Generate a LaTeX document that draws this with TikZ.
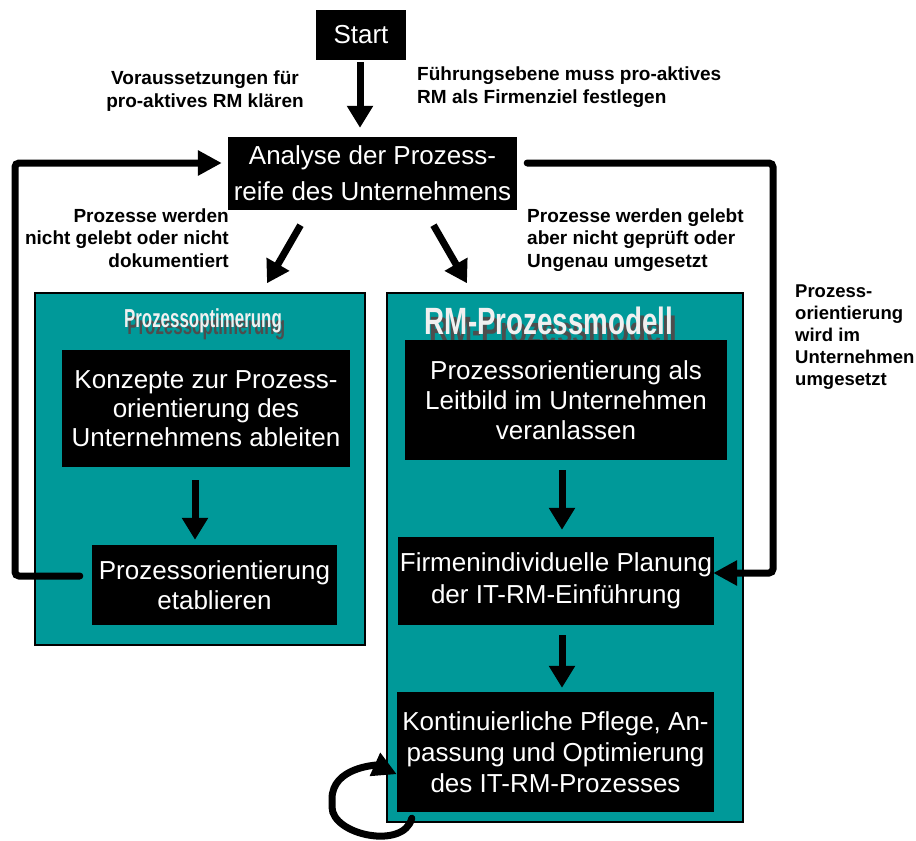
\documentclass[tikz,border=0pt]{standalone}
\usepackage{fontspec}
\setmainfont{Liberation Sans}
\usetikzlibrary{arrows.meta}
\definecolor{panelteal}{RGB}{0,153,153}
\definecolor{shadowgray}{RGB}{77,77,77}
\newcommand{\shadowtext}[3]{\makebox[0pt][l]{\hspace*{#1}\raisebox{-#2}{\textcolor{shadowgray}{#3}}}\textcolor{gray!12}{#3}}
\begin{document}
\begin{tikzpicture}[x=1pt,y=-1pt,
  box/.style={fill=black,text=white,align=center,inner sep=0pt,font=\fontsize{26}{30}\selectfont},
  panel/.style={fill=panelteal,draw=black,line width=1.5pt,inner sep=0pt},
  note/.style={font=\fontsize{19}{22.5}\selectfont\bfseries,inner sep=0pt},
  flow/.style={line width=7pt,-{Triangle[length=22pt,width=25pt]}},
  back/.style={line width=7pt,rounded corners=4pt,line cap=round,-{Triangle[length=24pt,width=24pt]}},
  title/.style={inner sep=0pt,anchor=base}]
\useasboundingbox (0,0) rectangle (916,841);
\node[panel,minimum width=330pt,minimum height=352pt] (leftpanel) at (200,469) {};
\node[panel,minimum width=356pt,minimum height=529pt] (rightpanel) at (565,557.5) {};
\node[title,font=\fontsize{26}{26}\selectfont\bfseries] (opttitle) at (203,327) {\scalebox{0.65}[1]{\shadowtext{5pt}{7pt}{Prozessoptimerung}}};
\node[title,font=\fontsize{38}{38}\selectfont\bfseries] (rmtitle) at (549,334) {\scalebox{0.73}[1]{\shadowtext{6pt}{9pt}{RM-Prozessmodell}}};
\node[box,minimum width=90pt,minimum height=50pt] (start) at (361,35) {Start};
\node[box,minimum width=289pt,minimum height=73pt,font=\fontsize{26}{36}\selectfont] (analyse) at (372.5,173.5) {Analyse der Prozess-\\reife des Unternehmens};
\node[box,minimum width=288pt,minimum height=117pt,font=\fontsize{26}{29}\selectfont] (konzepte) at (206,408.5) {Konzepte zur Prozess-\\orientierung des\\Unternehmens ableiten};
\node[box,minimum width=245pt,minimum height=80pt] (etab) at (214.5,585) {Prozessorientierung\\etablieren};
\node[box,minimum width=322pt,minimum height=120pt] (leitbild) at (566,400) {Prozessorientierung als\\Leitbild im Unternehmen\\veranlassen};
\node[box,minimum width=316pt,minimum height=88pt,font=\fontsize{26}{32}\selectfont] (planung) at (556,581) {Firmenindividuelle Planung\\der IT-RM-Einführung};
\node[box,minimum width=317pt,minimum height=120pt,font=\fontsize{26}{31}\selectfont] (pflege) at (555.5,752) {Kontinuierliche Pflege, An-\\passung und Optimierung\\des IT-RM-Prozesses};
\node[note,align=center] (vorlabel) at (205,91) {Voraussetzungen für\\pro-aktives RM klären};
\node[note,align=left,anchor=west] (fuehrlabel) at (417,87) {Führungsebene muss pro-aktives\\RM als Firmenziel festlegen};
\node[note,align=right,anchor=east] (nichtlabel) at (229,238) {Prozesse werden\\nicht gelebt oder nicht\\dokumentiert};
\node[note,align=left,anchor=west] (gelebtlabel) at (527,240) {Prozesse werden gelebt\\aber nicht geprüft oder\\Ungenau umgesetzt};
\node[note,align=left,anchor=west,font=\fontsize{18.5}{22.2}\selectfont\bfseries] (umgesetztlabel) at (795,337) {Prozess-\\orientierung\\wird im\\Unternehmen\\umgesetzt};
\draw[flow] ([xshift=-1pt,yshift=-2pt]start.south) -- ([xshift=-12.5pt,yshift=9pt]analyse.north);
\draw[flow] ([xshift=-72pt,yshift=-15pt]analyse.south) -- ([xshift=67pt,yshift=9pt]leftpanel.north);
\draw[flow] ([xshift=61pt,yshift=-15pt]analyse.south) -- ([xshift=-98pt,yshift=9pt]rightpanel.north);
\draw[flow] ([xshift=-11pt,yshift=-13pt]konzepte.south) -- ([xshift=-19.5pt,yshift=5pt]etab.north);
\draw[flow] ([xshift=-4pt,yshift=-10pt]leitbild.south) -- ([xshift=6pt,yshift=7pt]planung.north);
\draw[flow] ([xshift=6pt,yshift=-10pt]planung.south) -- ([xshift=6.5pt,yshift=4pt]pflege.north);
\coordinate (lbottom) at (15,576);
\coordinate (ltop) at (15,163);
\coordinate (rtop) at (773,163);
\coordinate (rbottom) at (773,573);
\draw[back] ([xshift=-12pt,yshift=9pt]etab.west) -- (lbottom) -- (ltop) -- ([xshift=-6pt,yshift=10.5pt]analyse.west);
\draw[back] ([xshift=10pt,yshift=10.5pt]analyse.east) -- (rtop) -- (rbottom) -- ([xshift=-1pt,yshift=8pt]planung.east);
\draw[back] ([xshift=15pt,yshift=-6pt]pflege.south west) .. controls +(-8,32) and +(0,32) .. (332,803) .. controls +(0,-36) and +(-20,-9) .. ([yshift=38pt]pflege.south west);
\end{tikzpicture}
\end{document}
